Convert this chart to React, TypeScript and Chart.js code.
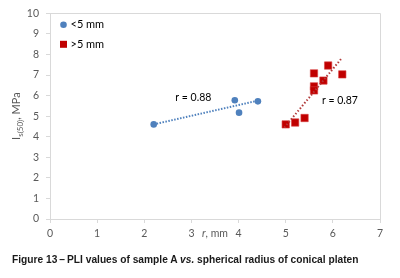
import React, { useEffect, useRef } from "react";
import { Chart, registerables } from "chart.js";

Chart.register(...registerables);

// ---- data ----
const smallX = [2.2, 3.92, 4.01, 4.41];
const smallY = [4.6, 5.77, 5.17, 5.72];
const largeX = [5.0, 5.2, 5.4, 5.6, 5.6, 5.6, 5.8, 5.9, 6.2];
const largeY = [4.6, 4.69, 4.91, 7.08, 6.45, 6.25, 6.73, 7.46, 7.03];
const smallTrendX = [2.2, 4.4];
const smallTrendY = [4.6, 5.75];
const largeTrendX = [4.97, 6.2];
const largeTrendY = [4.44, 7.85];
const seriesLabels = ["<5 mm", ">5 mm"];
const rLabels = ["r = 0.88", "r = 0.87"];
const rLabelX = [3.04, 6.15];
const rLabelY = [5.92, 5.77];
const xTickValues = [0, 1, 2, 3, 4, 5, 6, 7];
const yTickValues = [0, 1, 2, 3, 4, 5, 6, 7, 8, 9, 10];
const xTitle = ["r", ", mm"];
const yTitle = ["I", "s(50)", ", MPa"];
const captionParts = ["Figure 13\u2009\u2013\u2009PLI values of sample A ", "vs.", " spherical radius of conical platen"];

const BLUE = "#4F81BD";
const RED = "#C00000";
const RED_LINE = "#B23A3A";
const AXIS = "#D9D9D9";
const TICK = "#595959";
const FONT = "Lato, 'Open Sans', sans-serif";

const pts = (xs: number[], ys: number[]) => xs.map((x, i) => ({ x, y: ys[i] }));

const overlay = {
  id: "overlay",
  afterDraw(chart: any) {
    const { ctx, chartArea, scales } = chart;
    const xs = scales.x;
    const ys = scales.y;
    ctx.save();
    // frame top & right
    ctx.strokeStyle = AXIS;
    ctx.lineWidth = 1;
    ctx.beginPath();
    ctx.moveTo(Math.round(chartArea.left) + 0.5, Math.round(chartArea.top) + 0.5);
    ctx.lineTo(Math.round(chartArea.right) + 0.5, Math.round(chartArea.top) + 0.5);
    ctx.lineTo(Math.round(chartArea.right) + 0.5, Math.round(chartArea.bottom) + 0.5);
    ctx.stroke();

    // legend
    ctx.font = `11px ${FONT}`;
    ctx.textBaseline = "middle";
    ctx.textAlign = "left";
    const lx = chartArea.left + 13.5;
    const ly0 = chartArea.top + 11.5;
    const ly1 = chartArea.top + 31;
    ctx.fillStyle = BLUE;
    ctx.beginPath();
    ctx.arc(lx, ly0, 3.3, 0, Math.PI * 2);
    ctx.fill();
    ctx.fillStyle = RED;
    ctx.fillRect(lx - 3.5, ly1 - 3.5, 7, 7);
    ctx.fillStyle = "#000";
    ctx.fillText(seriesLabels[0], lx + 7, ly0);
    ctx.fillText(seriesLabels[1], lx + 7, ly1);

    // r annotations
    ctx.font = `10.5px ${FONT}`;
    ctx.textAlign = "center";
    rLabels.forEach((t, i) => {
      ctx.fillText(t, xs.getPixelForValue(rLabelX[i]), ys.getPixelForValue(rLabelY[i]));
    });

    // x title inline with tick labels
    const tx = xs.getPixelForValue(3.5);
    const ty = chartArea.bottom + 15;
    ctx.fillStyle = TICK;
    ctx.font = `italic 10.5px ${FONT}`;
    const w0 = ctx.measureText(xTitle[0]).width;
    ctx.font = `10.5px ${FONT}`;
    const w1 = ctx.measureText(xTitle[1]).width;
    let sx = tx - (w0 + w1) / 2;
    ctx.textAlign = "left";
    ctx.font = `italic 10.5px ${FONT}`;
    ctx.fillText(xTitle[0], sx, ty);
    ctx.font = `10.5px ${FONT}`;
    ctx.fillText(xTitle[1], sx + w0, ty);

    // y title rotated with subscript
    ctx.translate(16, (chartArea.top + chartArea.bottom) / 2);
    ctx.rotate(-Math.PI / 2);
    ctx.textBaseline = "alphabetic";
    ctx.font = `11px ${FONT}`;
    const a = ctx.measureText(yTitle[0]).width;
    ctx.font = `8px ${FONT}`;
    const b = ctx.measureText(yTitle[1]).width;
    ctx.font = `11px ${FONT}`;
    const c = ctx.measureText(yTitle[2]).width;
    let px = -(a + b + c) / 2;
    const base = 4;
    ctx.fillStyle = TICK;
    ctx.font = `11px ${FONT}`;
    ctx.fillText(yTitle[0], px, base);
    px += a;
    ctx.font = `8px ${FONT}`;
    ctx.fillText(yTitle[1], px, base + 2.5);
    px += b;
    ctx.font = `11px ${FONT}`;
    ctx.fillText(yTitle[2], px, base);
    ctx.restore();
  },
};

export default function App() {
  const ref = useRef<HTMLCanvasElement>(null);
  useEffect(() => {
    document.body.style.margin = "0";
    const chart = new Chart(ref.current!, {
      type: "scatter",
      data: {
        datasets: [
          {
            label: "<5 mm trend",
            data: pts(smallTrendX, smallTrendY),
            showLine: true,
            borderColor: BLUE,
            borderWidth: 2,
            borderDash: [1.5, 1.5],
            pointRadius: 0,
          },
          {
            label: ">5 mm trend",
            data: pts(largeTrendX, largeTrendY),
            showLine: true,
            borderColor: RED_LINE,
            borderWidth: 2,
            borderDash: [1.5, 2],
            pointRadius: 0,
          },
          {
            label: seriesLabels[0],
            data: pts(smallX, smallY),
            pointStyle: "circle",
            pointRadius: 3.3,
            backgroundColor: BLUE,
            borderColor: BLUE,
            borderWidth: 0,
          },
          {
            label: seriesLabels[1],
            data: pts(largeX, largeY),
            pointStyle: "rect",
            pointRadius: 5.2,
            backgroundColor: RED,
            borderColor: "#D84040",
            borderWidth: 0.6,
          },
        ],
      },
      options: {
        animation: false,
        responsive: false,
        events: [],
        layout: { padding: { top: 13, right: 20, left: 0, bottom: 0 } },
        plugins: { legend: { display: false }, tooltip: { enabled: false } },
        scales: {
          x: {
            type: "linear",
            min: 0,
            max: 7,
            afterFit: (s: any) => { s.height = 59; },
            afterBuildTicks: (s: any) => { s.ticks = xTickValues.map((v) => ({ value: v })); },
            ticks: { color: TICK, font: { family: FONT, size: 10.5 }, padding: 4 },
            grid: { drawOnChartArea: false, drawTicks: true, tickLength: 4, color: AXIS },
            border: { color: AXIS },
          },
          y: {
            type: "linear",
            min: 0,
            max: 10,
            afterFit: (s: any) => { s.width = 50; },
            afterBuildTicks: (s: any) => { s.ticks = yTickValues.map((v) => ({ value: v })); },
            ticks: { color: TICK, font: { family: FONT, size: 10.5 }, padding: 7 },
            grid: { drawOnChartArea: false, drawTicks: true, tickLength: 4, color: AXIS },
            border: { color: AXIS },
          },
        },
      },
      plugins: [overlay],
    });
    return () => chart.destroy();
  }, []);

  return (
    <div style={{ position: "relative", width: 400, height: 278, background: "#fff" }}>
      <canvas ref={ref} width={400} height={278} style={{ display: "block" }} />
      <div
        style={{
          position: "absolute",
          left: 12,
          top: 254,
          font: "bold 10.2px 'Liberation Sans', Arial, sans-serif",
          color: "#1a1a1a",
          whiteSpace: "nowrap",
        }}
      >
        {captionParts[0]}
        <i>{captionParts[1]}</i>
        {captionParts[2]}
      </div>
    </div>
  );
}
